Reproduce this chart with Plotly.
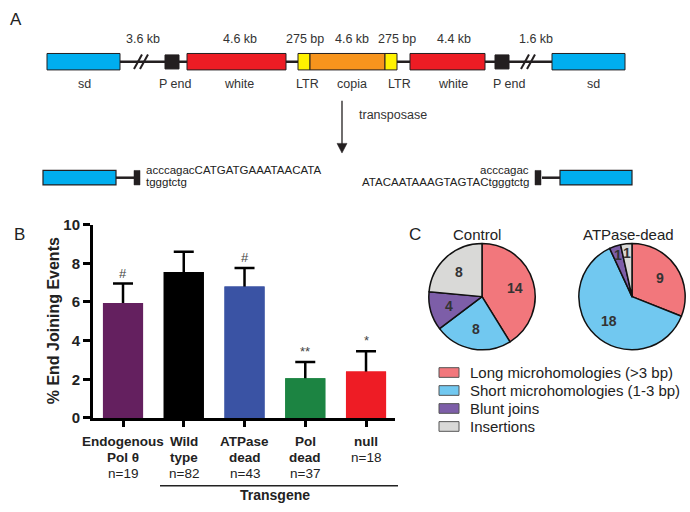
import math
import plotly.graph_objects as go

W, H = 690, 512
def px(x): return x / W
def py(y): return 1 - y / H

FONT = "Arial, Liberation Sans, Helvetica, sans-serif"

# ---------------- DATA ----------------
bar_name_lines = [["Endogenous", "Pol θ"], ["Wild", "type"], ["ATPase", "dead"], ["Pol", "dead"], ["null"]]
bar_n = ["n=19", "n=82", "n=43", "n=37", "n=18"]
bar_values = [5.95, 7.55, 6.8, 2.05, 2.4]
bar_errors = [1.0, 1.05, 0.95, 0.85, 1.05]
bar_marks = ["#", "", "#", "**", "*"]
y_ticks = [0, 2, 4, 6, 8, 10]
group_label = "Transgene"

pie_categories = ["Long microhomologies (>3 bp)", "Short microhomologies (1-3 bp)", "Blunt joins", "Insertions"]
control_counts = [14, 8, 4, 8]
atpase_counts = [9, 18, 1, 1]
pie_titles = ["Control", "ATPase-dead"]

map_size_labels = ["3.6 kb", "4.6 kb", "275 bp", "4.6 kb", "275 bp", "4.4 kb", "1.6 kb"]
map_feature_labels = ["sd", "P end", "white", "LTR", "copia", "LTR", "white", "P end", "sd"]
seq_left = ["acccagacCATGATGAAATAACATA", "tgggtctg"]
seq_right = ["acccagac", "ATACAATAAAGTAGTACtgggtctg"]

# ---------------- STYLE / LAYOUT ----------------
bar_colors = ["#64205F", "#000000", "#3A53A4", "#1C8442", "#EE1C25"]
pie_colors = ["#F2777C", "#71C8F0", "#7D5EA8", "#D9D9D7"]
C_SD, C_RED, C_YEL, C_ORG, C_BLK = "#00AEEF", "#ED1C24", "#FFF200", "#F7941D", "#231F20"

# gene map boxes in pixel layout (x0, x1, color)
map_boxes = [(47, 120, C_SD), (165, 179, C_BLK), (187, 286, C_RED), (298, 310, C_YEL),
             (310, 385, C_ORG), (385, 397, C_YEL), (410, 485, C_RED), (495, 509, C_BLK),
             (552, 625, C_SD)]
map_size_x = [143, 240, 305, 352, 397, 454, 536]
map_feat_x = [84, 175, 239, 307, 352, 399, 453, 509, 593]

shapes = []
annotations = []

def rect(x0, y0, x1, y1, fill, lc="#231F20", lw=1):
    shapes.append(dict(type="rect", xref="paper", yref="paper", x0=px(x0), x1=px(x1),
                       y0=py(y1), y1=py(y0), fillcolor=fill, line=dict(color=lc, width=lw), layer="above"))

def line(x0, y0, x1, y1, color="#231F20", w=2):
    shapes.append(dict(type="line", xref="paper", yref="paper", x0=px(x0), x1=px(x1),
                       y0=py(y0), y1=py(y1), line=dict(color=color, width=w), layer="above"))

def text(x, y, s, size=13, color="#333333", xanchor="center", yanchor="middle", bold=False, angle=0):
    annotations.append(dict(xref="paper", yref="paper", x=px(x), y=py(y), text=("<b>%s</b>" % s) if bold else s,
                            showarrow=False, xanchor=xanchor, yanchor=yanchor, textangle=angle,
                            font=dict(family=FONT, size=size, color=color)))

# ---- Panel A ----
text(8, 11, "A", size=17, color="#222", xanchor="left")
line(120, 54.5, 552, 54.5, w=2.5)
for (x0, x1, c) in map_boxes:
    if c == C_BLK:
        rect(x0, 47.5, x1, 62, c, lw=1)
    else:
        rect(x0, 46, x1, 63, c, lw=1)
for bx in (141, 528):
    for d in (-3, 3):
        line(bx + d - 4, 62, bx + d + 4, 47, w=2)
for x, s in zip(map_size_x, map_size_labels):
    text(x, 31, s, size=12.5)
for x, s in zip(map_feat_x, map_feature_labels):
    text(x, 78, s, size=12.5)
# arrow
line(342, 95, 342, 140, w=1.3)
shapes.append(dict(type="path", xref="paper", yref="paper",
                   path="M %f %f L %f %f L %f %f Z" % (px(337), py(139), px(347), py(139), px(342), py(149)),
                   fillcolor=C_BLK, line=dict(color=C_BLK, width=0.5)))
text(357, 110, "transposase", size=12.5, xanchor="left")
# excised products
rect(43, 167, 116, 182, C_SD, lw=1.2)
line(116, 174.5, 135, 174.5, w=2.5)
rect(134, 167, 140, 182, C_BLK, lw=0.5)
text(144, 167, seq_left[0], size=11.5, color="#222", xanchor="left")
text(144, 179, seq_left[1], size=11.5, color="#222", xanchor="left")
rect(560, 167, 632, 182, C_SD, lw=1.2)
line(542, 174.5, 560, 174.5, w=2.5)
rect(535, 167, 541, 182, C_BLK, lw=0.5)
text(531, 167, seq_right[0], size=11.5, color="#222", xanchor="right")
text(531, 179, seq_right[1], size=11.5, color="#222", xanchor="right")

# ---- Panel B ----
text(12, 233, "B", size=17, color="#222", xanchor="left")
n_bars = len(bar_values)
cats = list(range(n_bars))
fig = go.Figure()
# bars carrying the (upward) error bars; lower cap tucked inside the bar
fig.add_trace(go.Bar(
    x=cats, y=bar_values, width=0.66, marker=dict(color=bar_colors, line=dict(width=0)),
    error_y=dict(type="data", array=bar_errors, arrayminus=[0.3] * n_bars, symmetric=False,
                 thickness=2.5, width=10, color="black"),
    showlegend=False, hoverinfo="skip"))
# same bars again on top to hide the lower cap
fig.add_trace(go.Bar(
    x=cats, y=bar_values, width=0.66, marker=dict(color=bar_colors, line=dict(width=0)),
    showlegend=False, hoverinfo="skip"))

for i, m in enumerate(bar_marks):
    if m:
        annotations.append(dict(xref="x", yref="y", x=i, y=bar_values[i] + bar_errors[i], text=m,
                                showarrow=False, yanchor="bottom", yshift=1,
                                font=dict(family=FONT, size=13, color="#444")))
line_y = [447, 464, 480]
for i, (lines, n) in enumerate(zip(bar_name_lines, bar_n)):
    allt = [("<b>%s</b>" % l) for l in lines] + [n]
    for k, t in enumerate(allt):
        annotations.append(dict(xref="x", yref="paper", x=i, y=py(line_y[k]), text=t, showarrow=False,
                                xanchor="center", yanchor="middle",
                                font=dict(family=FONT, size=13.5, color="#222")))
line(160, 493, 398, 493, color="#222", w=1.5)
text(275, 503, group_label, size=14, color="#222", bold=True)
text(53, 323, "% End Joining Events", size=16, color="#222", bold=True, angle=-90)

# ---- Panel C ----
text(407, 233, "C", size=17, color="#222", xanchor="left")
pie_centers = [(482, 297.5), (632, 297.5)]
R = 55
for (cx, cy), title, counts in zip(pie_centers, pie_titles, [control_counts, atpase_counts]):
    fig.add_trace(go.Pie(values=counts, labels=pie_categories, sort=False, direction="clockwise",
                         rotation=0, textinfo="none", hoverinfo="skip", showlegend=False,
                         marker=dict(colors=pie_colors, line=dict(color="#111", width=1.5)),
                         domain=dict(x=[px(cx - R), px(cx + R)], y=[py(cy + R), py(cy - R)])))
    text(cx - 5 if title == "Control" else cx - 4, 233, title, size=15, color="#222")
    tot = sum(counts)
    acc = 0
    for v in counts:
        mid = (acc + v / 2) / tot * 2 * math.pi
        acc += v
        f = 0.82 if v / tot < 0.06 else 0.62
        lx = cx + f * R * math.sin(mid)
        ly = cy - f * R * math.cos(mid)
        text(lx, ly, str(v), size=14, color="#333", bold=True)

# legend
for i, (cat, col) in enumerate(zip(pie_categories, pie_colors)):
    yc = 376 + 18.6 * i
    rect(439, yc - 5, 459, yc + 5, col, lc="#555", lw=1)
    text(468, yc, cat, size=15, color="#222", xanchor="left")

fig.update_layout(
    width=W, height=H, margin=dict(l=0, r=0, t=0, b=0), autosize=False,
    paper_bgcolor="white", plot_bgcolor="white", barmode="overlay",
    xaxis=dict(domain=[px(93), px(395)], range=[-0.494, 4.477], showgrid=False, zeroline=False,
               showline=True, linecolor="black", linewidth=3, ticks="outside", ticklen=6, tickwidth=3,
               tickcolor="black", tickvals=cats, showticklabels=False, fixedrange=True),
    yaxis=dict(domain=[py(423), py(223)], range=[0, 10], showgrid=False, zeroline=False,
               showline=True, linecolor="black", linewidth=3, ticks="outside", ticklen=7, tickwidth=3,
               tickcolor="black", tickvals=y_ticks, ticktext=["<b>%d</b>" % t for t in y_ticks],
               tickfont=dict(family=FONT, size=15, color="#222"), fixedrange=True),
    shapes=shapes, annotations=annotations, showlegend=False,
)
fig.write_html("out.html", config={"displayModeBar": False},
               post_script="document.body.style.margin='0';document.body.style.overflow='hidden';")
